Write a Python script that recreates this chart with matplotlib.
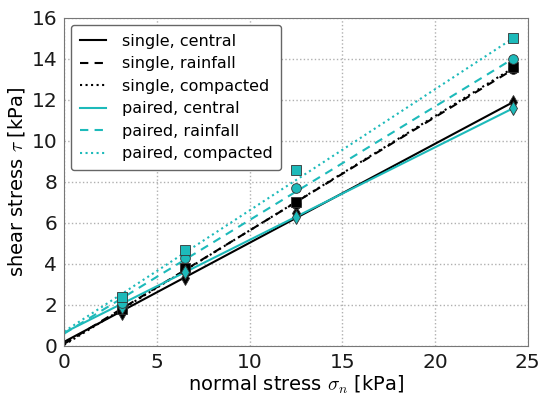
import numpy as np
import matplotlib
matplotlib.use('Agg')
import matplotlib.pyplot as plt

# normal stress levels [kPa]
sigma = [3.1, 6.5, 12.5, 24.2]

# measured peak shear stress [kPa]
single_central = [1.6, 3.3, 6.5, 11.9]
single_rainfall = [1.8, 3.7, 6.9, 13.5]
single_compacted = [1.8, 3.8, 7.0, 13.6]
paired_central = [1.9, 3.6, 6.3, 11.6]
paired_rainfall = [2.1, 4.3, 7.7, 14.0]
paired_compacted = [2.4, 4.7, 8.6, 15.0]

# fitted Mohr-Coulomb lines: cohesion [kPa], slope tan(phi)
cohesion = [0.2, 0.1, 0.05, 0.65, 0.6, 0.7]
slope = [0.483, 0.553, 0.558, 0.452, 0.554, 0.591]

labels = ['single, central', 'single, rainfall', 'single, compacted',
          'paired, central', 'paired, rainfall', 'paired, compacted']
series = [single_central, single_rainfall, single_compacted,
          paired_central, paired_rainfall, paired_compacted]

BLACK = 'black'
CYAN = '#1dbaba'
colors = [BLACK, BLACK, BLACK, CYAN, CYAN, CYAN]
styles = ['-', (0, (4, 3)), ':', '-', (0, (4, 3)), ':']
markers = ['d', 'o', 's', 'd', 'o', 's']

plt.rcParams['font.family'] = 'DejaVu Sans'
plt.rcParams['mathtext.fontset'] = 'cm'
fig = plt.figure(figsize=(5.48, 3.99), dpi=100)
ax = fig.add_axes([0.117, 0.133, 0.846, 0.822])

xfit = np.array([0, max(sigma)])
for c, m, col, ls, lab in zip(cohesion, slope, colors, styles, labels):
    ax.plot(xfit, c + m * xfit, color=col, ls=ls, lw=1.5, label=lab, zorder=2)

for ys, col, mk in zip(series, colors, markers):
    ax.plot(sigma, ys, ls='none', marker=mk, color=col, ms=7,
            mec='#333333', mew=0.6, zorder=3)

ax.set_xlim(0, 25)
ax.set_ylim(0, 16)
ax.set_xticks([0, 5, 10, 15, 20, 25])
ax.set_yticks([0, 2, 4, 6, 8, 10, 12, 14, 16])
ax.grid(True, color='#b0b0b0', ls=':', lw=1.0)
ax.set_axisbelow(True)
ax.tick_params(axis='both', labelsize=14.5, direction='in', length=0, pad=5,
               colors='#1a1a1a')
for sp in ax.spines.values():
    sp.set_color('#777777')
ax.set_xlabel(r'normal stress $\sigma_n$ [kPa]', fontsize=14, labelpad=1)
ax.set_ylabel(r'shear stress $\tau$ [kPa]', fontsize=14, labelpad=3)

leg = ax.legend(loc='upper left', fontsize=11.5, handlelength=1.6,
                handletextpad=1.0, labelspacing=0.47, borderpad=0.55,
                borderaxespad=0.45, fancybox=True, framealpha=1)
leg.get_frame().set_edgecolor('#666666')

fig.savefig('out.png', dpi=100, facecolor='white')
